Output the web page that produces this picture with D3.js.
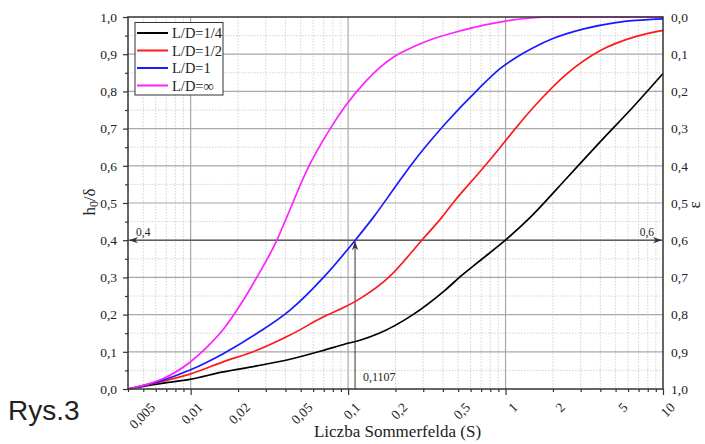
<!DOCTYPE html>
<html><head><meta charset="utf-8">
<script src="https://cdn.jsdelivr.net/npm/d3@7"></script>
<style>body{margin:0;background:#fff}svg{display:block}</style>
</head><body>
<svg id="c" width="705" height="444"></svg>
<script>
// ---- data ----
const seriesNames = ["L/D=1/4", "L/D=1/2", "L/D=1", "L/D=\u221E"];
const seriesColors = ["#000000", "#ff1a1a", "#1a1aff", "#ff22ff"];
const sQuarter = [0.004,0.0067,0.0099,0.0161,0.0263,0.0428,0.0698,0.0958,0.119,0.156,0.254,0.414,0.529,0.674,0.997,1.44,2.46,4.0,6.52,10];
const hQuarter = [0,0.016,0.026,0.046,0.062,0.080,0.104,0.121,0.131,0.149,0.198,0.266,0.306,0.342,0.40,0.462,0.568,0.665,0.76,0.848];
const sHalf = [0.004,0.0067,0.0099,0.0161,0.0263,0.0428,0.0698,0.0958,0.119,0.181,0.294,0.395,0.48,0.674,0.927,1.154,1.51,2.46,4.0,6.52,10];
const hHalf = [0,0.021,0.040,0.073,0.104,0.145,0.194,0.221,0.243,0.30,0.40,0.462,0.508,0.58,0.65,0.70,0.758,0.848,0.91,0.946,0.964];
const sOne = [0.004,0.0067,0.0099,0.0161,0.0263,0.0428,0.0698,0.111,0.145,0.199,0.254,0.414,0.674,0.927,1.154,1.51,2.0,3.14,5.0,10];
const hOne = [0,0.024,0.051,0.095,0.149,0.212,0.30,0.40,0.462,0.543,0.605,0.713,0.807,0.862,0.89,0.918,0.942,0.968,0.985,0.995];
const sInf = [0.004,0.0067,0.0099,0.0125,0.0161,0.0206,0.0263,0.0353,0.0408,0.0547,0.077,0.0958,0.128,0.16,0.199,0.26,0.324,0.529,0.997,1.93,10];
const hInf = [0,0.028,0.072,0.11,0.16,0.225,0.30,0.40,0.462,0.588,0.70,0.76,0.825,0.865,0.895,0.92,0.937,0.964,0.989,1.0,1.0];
const xTickValues = [0.005,0.01,0.02,0.05,0.1,0.2,0.5,1,2,5,10];
const xTickLabels = ["0,005","0,01","0,02","0,05","0,1","0,2","0,5","1","2","5","10"];
const yTickValues = [0,0.1,0.2,0.3,0.4,0.5,0.6,0.7,0.8,0.9,1.0];
const markerS = 0.1107, markerH = 0.4;

// ---- layout ----
const L = 128, R = 663, T = 17, B = 389;
const svg = d3.select("#c");
const x = d3.scaleLog().domain([0.004, 10]).range([L, R]);
const y = d3.scaleLinear().domain([0, 1]).range([B, T]);
const serif = "Liberation Serif";
const comma = d => d3.format(".1f")(d).replace(".", ",");

const minorX = [];
[0.001,0.01,0.1,1].forEach(d => { for (let k = 1; k <= 9; k++) { const v = +(k*d).toPrecision(3); if (v >= 0.004 && v <= 10) minorX.push(v); } });
const decadeX = [0.01, 0.1, 1];
const minorY = d3.range(0.05, 1, 0.1);

// grid
const grid = svg.append("g");
grid.selectAll(".vm").data(minorX.filter(v => !decadeX.includes(v) && v > 0.004 && v < 10)).join("line")
  .attr("x1", d => x(d)).attr("x2", d => x(d)).attr("y1", T).attr("y2", B)
  .attr("stroke", "#c8c8c8").attr("stroke-width", 0.8).attr("stroke-dasharray", "1.5,1.5");
grid.selectAll(".hm").data(minorY).join("line")
  .attr("x1", L).attr("x2", R).attr("y1", d => y(d)).attr("y2", d => y(d))
  .attr("stroke", "#c8c8c8").attr("stroke-width", 0.8).attr("stroke-dasharray", "1.5,1.5");
grid.selectAll(".vM").data(decadeX).join("line")
  .attr("x1", d => x(d)).attr("x2", d => x(d)).attr("y1", T).attr("y2", B)
  .attr("stroke", "#a8a8a8").attr("stroke-width", 1.2);
grid.selectAll(".hM").data(yTickValues.slice(1, -1)).join("line")
  .attr("x1", L).attr("x2", R).attr("y1", d => y(d)).attr("y2", d => y(d))
  .attr("stroke", "#a8a8a8").attr("stroke-width", 1.2);

// annotation lines
const ann = svg.append("g").attr("stroke", "#333").attr("stroke-width", 1).attr("fill", "none");
svg.append("defs").append("marker").attr("id", "arr").attr("viewBox", "0 0 10 10")
  .attr("refX", 10).attr("refY", 5).attr("markerWidth", 9).attr("markerHeight", 9)
  .attr("orient", "auto-start-reverse").attr("markerUnits", "userSpaceOnUse")
  .append("path").attr("d", "M0,1.5 L10,5 L0,8.5 L3,5 Z").attr("fill", "#333");
ann.append("line").attr("x1", L + 1).attr("x2", R - 1).attr("y1", y(markerH)).attr("y2", y(markerH))
  .attr("marker-start", "url(#arr)").attr("marker-end", "url(#arr)");
ann.append("line").attr("x1", x(markerS)).attr("x2", x(markerS)).attr("y1", B).attr("y2", y(markerH) + 1)
  .attr("marker-end", "url(#arr)");

// curves
const sets = [[sQuarter, hQuarter], [sHalf, hHalf], [sOne, hOne], [sInf, hInf]];
const line = d3.line().x(d => x(d[0])).y(d => y(d[1])).curve(d3.curveMonotoneX);
sets.forEach((s, i) => {
  svg.append("path").datum(s[0].map((v, j) => [v, s[1][j]]))
    .attr("d", line).attr("fill", "none").attr("stroke", seriesColors[i]).attr("stroke-width", 1.7);
});

// frame
svg.append("rect").attr("x", L).attr("y", T).attr("width", R - L).attr("height", B - T)
  .attr("fill", "none").attr("stroke", "#333").attr("stroke-width", 1.5);

// axes
function styleAxis(g) { g.attr("font-family", serif); g.select(".domain").remove(); g.selectAll(".tick line").attr("stroke", "#333").attr("stroke-width", 1.2); g.selectAll("text").style("font-family", serif).attr("font-size", 13.5).attr("fill", "#222"); }
svg.append("g").attr("transform", `translate(${L},0)`)
  .call(d3.axisLeft(y).tickValues(minorY).tickSize(3).tickFormat("")).call(styleAxis);
svg.append("g").attr("transform", `translate(${L},0)`)
  .call(d3.axisLeft(y).tickValues(yTickValues).tickSize(5).tickPadding(6).tickFormat(comma)).call(styleAxis);
svg.append("g").attr("transform", `translate(${R},0)`)
  .call(d3.axisRight(y).tickValues(yTickValues).tickSize(0).tickPadding(8).tickFormat(d => comma(1 - d))).call(styleAxis);
svg.append("g").attr("transform", `translate(0,${B})`)
  .call(d3.axisBottom(x).tickValues(minorX.filter(v => !decadeX.includes(v))).tickSize(3).tickFormat("")).call(styleAxis);
svg.append("g").attr("transform", `translate(0,${B})`)
  .call(d3.axisBottom(x).tickValues(decadeX.concat([10])).tickSize(6).tickFormat("")).call(styleAxis);
const xl = svg.append("g").attr("transform", `translate(0,${B})`)
  .call(d3.axisBottom(x).tickValues(xTickValues).tickSize(0).tickFormat((d, i) => xTickLabels[i])).call(styleAxis);
xl.selectAll(".tick text").attr("text-anchor", "end").attr("dy", "0.35em").attr("y", 0)
  .attr("transform", "translate(9,16) rotate(-45)");

// axis titles
const txt = (sel) => sel.style("font-family", serif).attr("fill", "#222");
svg.append("text").attr("x", (L + R) / 2 + 2).attr("y", 437).attr("text-anchor", "middle")
  .attr("font-size", 17).call(txt).text("Liczba Sommerfelda (S)");
const yl = svg.append("text").attr("transform", "translate(95,202) rotate(-90)").attr("text-anchor", "middle")
  .attr("font-size", 17).call(txt);
yl.append("tspan").text("h");
yl.append("tspan").attr("font-size", 12).attr("dy", 3).text("0");
yl.append("tspan").attr("dy", -3).text("/\u03B4");
svg.append("text").attr("transform", "translate(700,205) rotate(-90)").attr("text-anchor", "middle")
  .attr("font-size", 17).call(txt).text("\u03B5");

// annotation labels
svg.append("text").attr("x", 136).attr("y", 236).attr("font-size", 11.5).call(txt).text("0,4");
svg.append("text").attr("x", 654).attr("y", 236).attr("text-anchor", "end").attr("font-size", 11.5).call(txt).text("0,6");
svg.append("text").attr("x", x(markerS) + 8).attr("y", 381).attr("font-size", 12).call(txt).text("0,1107");

// legend
const lg = svg.append("g");
lg.append("rect").attr("x", 135).attr("y", 22.5).attr("width", 88).attr("height", 72.5)
  .attr("fill", "#fff").attr("stroke", "#333").attr("stroke-width", 1);
seriesNames.forEach((n, i) => {
  const yy = 33 + i * 17.5;
  lg.append("line").attr("x1", 137).attr("x2", 168).attr("y1", yy).attr("y2", yy)
    .attr("stroke", seriesColors[i]).attr("stroke-width", 2);
  lg.append("text").attr("x", 172).attr("y", yy).attr("dy", "0.35em")
    .attr("font-size", 14.5).call(txt).text(n);
});

// caption
svg.append("text").attr("x", 8).attr("y", 420).style("font-family", "Liberation Sans")
  .attr("font-size", 28).attr("fill", "#222").text("Rys.3");
</script>
</body></html>
